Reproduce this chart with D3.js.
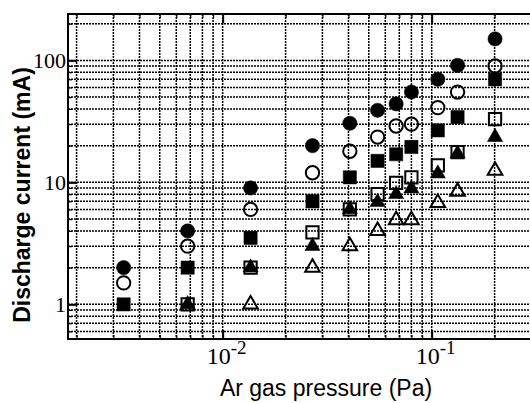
<!DOCTYPE html>
<html>
<head>
<meta charset="utf-8">
<script src="https://cdn.jsdelivr.net/npm/d3@7"></script>
<style>
  html, body { margin: 0; padding: 0; background: #fff; }
  svg { display: block; }
</style>
</head>
<body>
<div id="chart"></div>
<script>
// ---- data ----
const pressure = [0.00336, 0.0068, 0.0136, 0.0269, 0.0406, 0.0551, 0.0676, 0.080, 0.107, 0.133, 0.201];
const filledCircle   = [2.0, 4.0, 9.0, 20, 30.5, 39, 44, 55, 70, 91, 150];
const openCircle     = [1.5, 3.0, 6.0, 12, 18, 23.5, 29, 30, 41, 55, 90];
const filledSquare   = [1.0, 2.0, 3.5, 7.0, 11, 15, 17, 19.5, 26.7, 34.3, 70];
const openSquare     = [null, 1.0, 2.0, 3.9, 6.0, 8.0, 9.9, 11, 13.8, 17.7, 33];
const filledTriangle = [null, 1.0, 2.0, 3.0, 6.0, 6.9, 8.0, 8.9, 11.8, 17.2, 23.5];
const openTriangle   = [null, null, 1.0, 2.0, 3.0, 4.0, 4.9, 4.9, 6.8, 8.4, 12.5];

const xMajorTicks = [0.01, 0.1];
const xMajorExponents = ["-2", "-1"];
const yMajorTicks = [1, 10, 100];
const yMajorLabels = ["1", "10", "100"];
const xGridValues = [0.002,0.003,0.004,0.005,0.006,0.007,0.008,0.009,
                     0.01,0.02,0.03,0.04,0.05,0.06,0.07,0.08,0.09,0.1,0.2,0.3];
const yGridValues = [0.6,0.7,0.8,0.9,1,2,3,4,5,6,7,8,9,10,20,30,40,50,60,70,80,90,100,200];

const xTitle = "Ar gas pressure (Pa)";
const yTitle = "Discharge current (mA)";

// ---- layout ----
const W = 530, H = 403;
const pL = 68, pR = 531.4, pT = 14, pB = 339;

const svg = d3.select("#chart").append("svg")
  .attr("width", W).attr("height", H);

const x = d3.scaleLog().domain([0.00182, 0.3]).range([pL, pR]);
const y = d3.scaleLog().domain([0.52, 240]).range([pB, pT]);

svg.append("clipPath").attr("id", "plotclip")
  .append("rect").attr("x", pL).attr("y", pT)
  .attr("width", pR - pL).attr("height", pB - pT);

const grid = svg.append("g").attr("clip-path", "url(#plotclip)");
grid.selectAll("line.hg").data(yGridValues).enter().append("line")
  .attr("class", "hg")
  .attr("x1", pL).attr("x2", pR)
  .attr("y1", d => y(d)).attr("y2", d => y(d))
  .attr("stroke", "#000").attr("stroke-width", 1.5)
  .attr("stroke-dasharray", "2,1");
grid.selectAll("line.vg").data(xGridValues).enter().append("line")
  .attr("class", "vg")
  .attr("y1", pT).attr("y2", pB)
  .attr("x1", d => x(d)).attr("x2", d => x(d))
  .attr("stroke", "#000").attr("stroke-width", 1.5)
  .attr("stroke-dasharray", "2,1");

const isMajorY = v => yMajorTicks.includes(v);
const isMajorX = v => xMajorTicks.includes(v);

const axL = d3.axisLeft(y).tickValues(yGridValues).tickFormat("").tickSizeInner(0).tickSizeOuter(0);
const gL = svg.append("g").attr("transform", `translate(${pL},0)`).call(axL);
gL.selectAll(".tick line").attr("x2", d => isMajorY(d) ? 9 : 4)
  .attr("stroke", "#000").attr("stroke-width", d => isMajorY(d) ? 2 : 1.2);
gL.select(".domain").remove();

const axB = d3.axisBottom(x).tickValues(xGridValues).tickFormat("").tickSizeInner(0).tickSizeOuter(0);
const gB = svg.append("g").attr("transform", `translate(0,${pB})`).call(axB);
gB.selectAll(".tick line").attr("y2", d => isMajorX(d) ? -9 : -4)
  .attr("stroke", "#000").attr("stroke-width", d => isMajorX(d) ? 2 : 1.2);
gB.select(".domain").remove();

const axT = d3.axisTop(x).tickValues(xGridValues).tickFormat("").tickSizeInner(0).tickSizeOuter(0);
const gT = svg.append("g").attr("transform", `translate(0,${pT})`).call(axT);
gT.selectAll(".tick line").attr("y2", d => isMajorX(d) ? 9 : 4)
  .attr("stroke", "#000").attr("stroke-width", d => isMajorX(d) ? 2 : 1.2);
gT.select(".domain").remove();

svg.append("rect").attr("x", pL).attr("y", pT)
  .attr("width", pR - pL).attr("height", pB - pT)
  .attr("fill", "none").attr("stroke", "#000").attr("stroke-width", 2);

svg.selectAll("text.ylab").data(yMajorTicks).enter().append("text")
  .attr("class", "ylab")
  .attr("x", pL - 2).attr("y", d => y(d))
  .attr("dy", "0.35em")
  .attr("text-anchor", "end")
  .attr("font-family", "'Liberation Serif', 'Times New Roman', serif")
  .attr("font-size", 22)
  .text((d, i) => yMajorLabels[i]);

const xl = svg.selectAll("text.xlab").data(xMajorTicks).enter().append("text")
  .attr("class", "xlab")
  .attr("x", d => x(d) + 4).attr("y", 364)
  .attr("text-anchor", "middle")
  .attr("font-family", "'Liberation Serif', 'Times New Roman', serif")
  .attr("font-size", 24);
xl.append("tspan").text("10");
xl.append("tspan").attr("dy", -10).attr("font-size", 19).text((d, i) => xMajorExponents[i]);

svg.append("text")
  .attr("x", 326).attr("y", 396)
  .attr("text-anchor", "middle")
  .attr("font-family", "'Liberation Sans', Arial, sans-serif")
  .attr("font-size", 23)
  .text(xTitle);

svg.append("text")
  .attr("transform", "translate(30,195) rotate(-90)")
  .attr("text-anchor", "middle")
  .attr("font-family", "'Liberation Sans', Arial, sans-serif")
  .attr("font-weight", "bold")
  .attr("font-size", 23)
  .text(yTitle);

const series = [
  { values: openSquare,     type: d3.symbolSquare,   size: 150, filled: false },
  { values: filledCircle,   type: d3.symbolCircle,   size: 160, filled: true },
  { values: openCircle,     type: d3.symbolCircle,   size: 140, filled: false },
  { values: filledSquare,   type: d3.symbolSquare,   size: 175, filled: true },
  { values: filledTriangle, type: d3.symbolTriangle, size: 100, filled: true },
  { values: openTriangle,   type: d3.symbolTriangle, size: 92,  filled: false }
];

const marks = svg.append("g").attr("clip-path", "url(#plotclip)");
series.forEach(s => {
  const pts = pressure.map((p, i) => ({ p, v: s.values[i] })).filter(d => d.v != null);
  marks.append("g").selectAll("path").data(pts).enter().append("path")
    .attr("d", d3.symbol().type(s.type).size(s.size))
    .attr("transform", d => `translate(${x(d.p)},${y(d.v)})`)
    .attr("fill", s.filled ? "#000" : "none")
    .attr("stroke", "#000")
    .attr("stroke-width", s.filled ? 0.5 : 2);
});
</script>
</body>
</html>
